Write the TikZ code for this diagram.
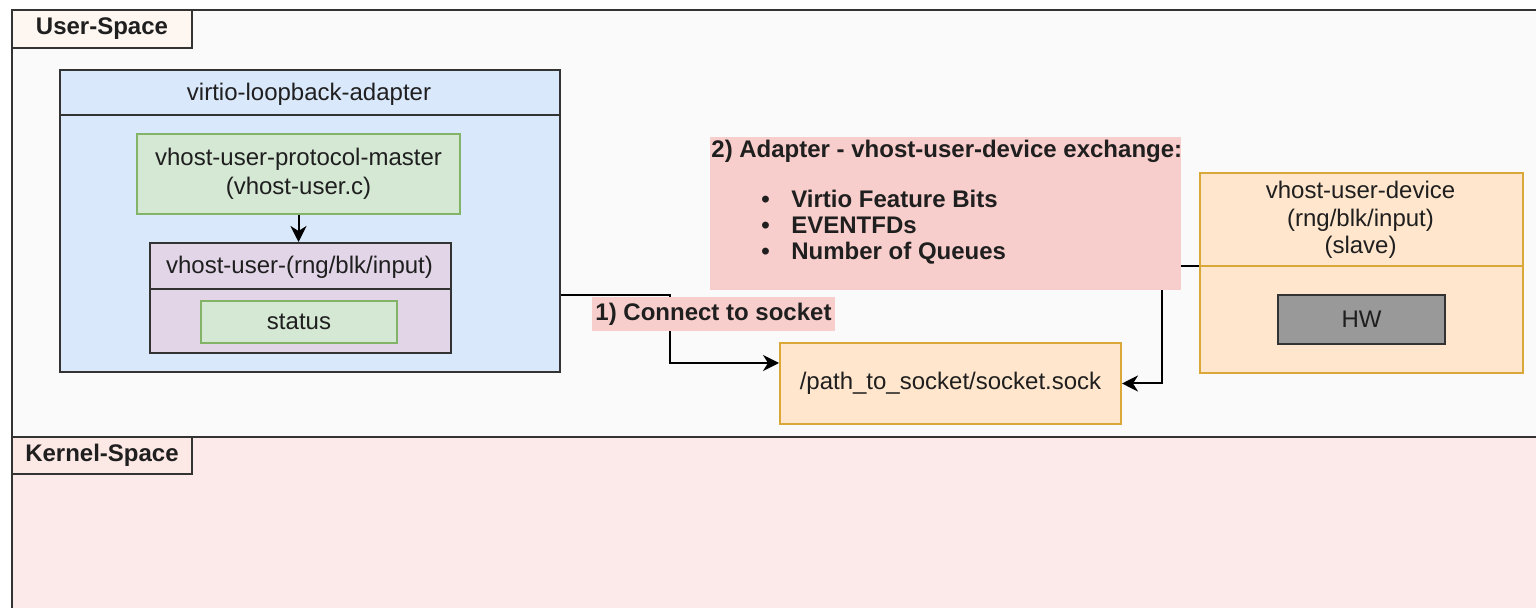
\documentclass[tikz,border=0pt]{standalone}
\usepackage{fontspec}
\setmainfont{Liberation Sans}
\usetikzlibrary{calc,arrows.meta}
\definecolor{userbg}{HTML}{FAFAFA}
\definecolor{kernbg}{HTML}{FBEAE9}
\definecolor{usertagc}{HTML}{FDF6F1}
\definecolor{kerntagc}{HTML}{FCE8E4}
\definecolor{bluef}{HTML}{DAE8FC}
\definecolor{greenf}{HTML}{D5E8D4}
\definecolor{greens}{HTML}{82B366}
\definecolor{purplef}{HTML}{E1D5E7}
\definecolor{pinkf}{HTML}{F8CECC}
\definecolor{orangef}{HTML}{FFE6CC}
\definecolor{oranges}{HTML}{DAA838}
\definecolor{hwf}{HTML}{999999}
\definecolor{darks}{HTML}{333333}
\definecolor{txt}{HTML}{1F1F1F}
\begin{document}
\begin{tikzpicture}[x=0.5pt,y=-0.5pt,
  font=\fontsize{12}{14}\selectfont, text=txt,
  region/.style={draw=darks, line width=1pt, inner sep=0pt, anchor=north west},
  tag/.style={draw=darks, line width=1pt, inner sep=0pt, anchor=north west, font=\bfseries\fontsize{12}{14}\selectfont},
  darkbox/.style={draw=darks, line width=1pt, inner sep=0pt, anchor=north west},
  greenbox/.style={draw=greens, fill=greenf, line width=1pt, inner sep=0pt, anchor=north west},
  orangebox/.style={draw=oranges, fill=orangef, line width=1pt, inner sep=0pt, anchor=north west},
  plain/.style={inner sep=0pt},
  boldlabel/.style={inner sep=0pt, font=\bfseries\fontsize{12}{14}\selectfont},
  conn/.style={draw=black, line width=1pt, -{Stealth[length=8pt,width=8pt,inset=2.5pt]}},
  sep/.style={draw=darks, line width=1pt}
]
\useasboundingbox (0,0) rectangle (1536,608);

% regions
\node[region, fill=userbg, minimum width=769.5pt, minimum height=213.5pt] (user) at (11,9) {};
\node[region, fill=kernbg, minimum width=769.5pt, minimum height=92pt] (kernel) at (11,436) {};
\node[tag, fill=usertagc, minimum width=90pt, minimum height=19pt] (usertag) at (11,9) {User-Space};
\node[tag, fill=kerntagc, minimum width=90pt, minimum height=18.5pt] (kerntag) at (11,436) {Kernel-Space};

% adapter
\node[darkbox, fill=bluef, minimum width=250pt, minimum height=151pt] (adapter) at (59,69) {};
\draw[sep] ($(adapter.north west)+(0,46)$) -- ($(adapter.north east)+(0,46)$);
\node[plain] (adaptertitle) at (309,94) {virtio-loopback-adapter};

\node[greenbox, minimum width=161.5pt, minimum height=40pt, align=center,
      font=\fontsize{12}{14.5}\selectfont] (master) at (136,133)
  {vhost-user-protocol-master\\(vhost-user.c)};

\node[darkbox, fill=purplef, minimum width=150.5pt, minimum height=55pt] (vuser) at (149,242) {};
\draw[sep] ($(vuser.north west)+(0,47)$) -- ($(vuser.north east)+(0,47)$);
\node[plain] (vusertitle) at (299.5,267) {vhost-user-(rng/blk/input)};
\node[greenbox, minimum width=98pt, minimum height=21pt] (status) at (200,300) {};
\node[plain] (statustext) at (status.center) {status};

\draw[conn] (master.south) -- (master.south |- vuser.north);

% socket
\node[orangebox, minimum width=170.5pt, minimum height=40.5pt] (socket) at (779,342) {};
\node[plain] (sockettext) at (socket.center) {/path\_to\_socket/socket.sock};

% device
\node[orangebox, minimum width=161.5pt, minimum height=100pt] (device) at (1199,172) {};
\draw[draw=oranges, line width=1pt] ($(device.north west)+(0,94)$) -- ($(device.north east)+(0,94)$);
\node[plain, align=center, font=\fontsize{12}{13.75}\selectfont] (devicetitle) at (1360.5,220)
  {vhost-user-device\\(rng/blk/input)\\(slave)};
\node[darkbox, fill=hwf, minimum width=83.5pt, minimum height=24.5pt] (hw) at (1277,294) {};
\node[plain] (hwtext) at (hw.center) {HW};

% connectors
\coordinate (c1) at ($(adapter.north east)+(0,226)$);
\coordinate (s1) at ($(socket.north west)+(0,21)$);
\draw[conn] (c1) -- ++(109,0) |- (s1);
\coordinate (c2) at ($(device.north west)+(0,94)$);
\draw[conn] (c2) -- ++(-37,0) |- (socket.east);

% labels
\node[boldlabel, fill=pinkf, inner xsep=1.5pt, inner ysep=3pt] (lab1) at (713.5,314) {1) Connect to socket};

\node[anchor=north west, fill=pinkf, inner sep=0pt, minimum width=235.5pt, minimum height=76.5pt] (exch) at (710,137) {};
\node[boldlabel, anchor=base west] (exchtitle) at (711,158) {2) Adapter - vhost-user-device exchange:};
\node[boldlabel, anchor=base west] (b1) at (761,208) {\makebox[15pt][l]{\textbullet}Virtio Feature Bits};
\node[boldlabel, anchor=base west] (b2) at (761,234) {\makebox[15pt][l]{\textbullet}EVENTFDs};
\node[boldlabel, anchor=base west] (b3) at (761,260) {\makebox[15pt][l]{\textbullet}Number of Queues};
\end{tikzpicture}
\end{document}
